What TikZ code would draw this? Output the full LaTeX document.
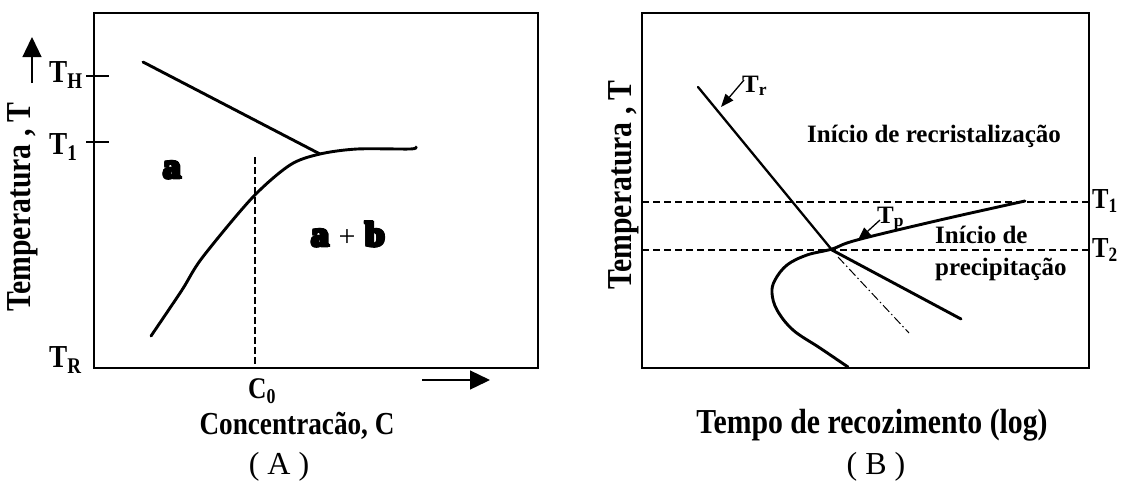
\documentclass[tikz,border=0pt]{standalone}
\usepackage{fontspec}
\setmainfont{Liberation Serif}
\newfontfamily\heavyfont[FakeBold=5]{Liberation Serif}
\newfontfamily\condfont{Liberation Serif}[FakeStretch=0.85]
\usetikzlibrary{arrows.meta}
\newcommand\fs[1]{\fontsize{#1}{#1}\selectfont}
\newcommand\heavytxt[1]{\leavevmode\rlap{#1}\rlap{\raisebox{0.8pt}{#1}}\rlap{\raisebox{-0.6pt}{#1}}\kern1pt\rlap{#1}\rlap{\raisebox{0.8pt}{#1}}\kern1pt#1}
\begin{document}
\begin{tikzpicture}[x=1pt,y=-1pt,
  frame/.style={line width=1.3pt},
  curve/.style={line width=2.9pt,line cap=round,line join=round},
  thin curve/.style={line width=2.3pt,line cap=round},
  dashA/.style={line width=1.1pt,dash pattern=on 7pt off 3pt},
  dashB/.style={line width=1.8pt,dash pattern=on 7pt off 4pt},
  dashdot/.style={line width=1pt,dash pattern=on 9pt off 3pt on 1.5pt off 3pt},
  bigarrow/.style={line width=1.3pt,-{Triangle[length=20pt,width=19pt]}},
  smallarrow/.style={line width=1.3pt,-{Triangle[length=13pt,width=10pt]}},
  tlbl/.style={inner sep=0pt,anchor=base west,font=\condfont\bfseries\fs{32}},
  tlblB/.style={inner sep=0pt,anchor=base west,font=\condfont\bfseries\fs{29}},
  axlbl/.style={inner sep=0pt,font=\condfont\bfseries\fs{35}},
  txt/.style={inner sep=0pt,font=\bfseries\fs{25}},
  phase/.style={inner sep=0pt,anchor=base,font=\heavyfont\bfseries\fs{35}},
  caplbl/.style={inner sep=0pt,anchor=base,font=\fs{32}}]
\useasboundingbox (0,0) rectangle (1127,483);

% ---------------- Panel A ----------------
\draw[frame] (94,13) rectangle (538,368);
\draw[frame] (86,76) -- (109,76);
\draw[frame] (86,142) -- (109,142);
\coordinate (yA0) at (32,83);
\coordinate (yA1) at (32,37);
\draw[bigarrow] (yA0) -- (yA1);
\coordinate (xA0) at (422,380);
\coordinate (xA1) at (490,380);
\draw[bigarrow] (xA0) -- (xA1);

\node[tlbl] (TH) at (49,82) {T\textsubscript{H}};
\node[tlbl] (T1A) at (49,154) {T\textsubscript{1}};
\node[tlbl] (TR) at (49,367) {T\textsubscript{R}};
\node[axlbl,rotate=90] (ylabA) at (23,207) {Temperatura , T};

\draw[curve] (143,62) -- (320,154);
\draw[curve] plot[smooth,tension=0.5] coordinates {(151,336) (182,290) (202,258) (252,198) (290,165) (320,154) (357,149) (410,149) (416,147)};
\draw[dashA] (255,157) -- (255,368);

\node[phase] (alpha) at (172,178) {\heavytxt{a}};
\node[phase] (alphabeta) at (348,246) {\heavytxt{a} {\normalfont\fs{30}+} \heavytxt{b}};

\node[inner sep=0pt,anchor=base west,font=\condfont\bfseries\fs{30}] (C0) at (248,398) {C\textsubscript{0}};
\node[inner sep=0pt,anchor=base,font=\condfont\bfseries\fs{32}] (xlabA) at (297,434) {Concentracão, C};
\node[caplbl] (capA) at (279,474) {( A )};

% ---------------- Panel B ----------------
\draw[frame] (642,13) rectangle (1089,368);
\draw[dashB] (642,202) -- (1092,202);
\draw[dashB] (642,250) -- (1092,250);
\node[tlblB] (T1B) at (1092,208) {T\textsubscript{1}};
\node[tlblB] (T2B) at (1092,257) {T\textsubscript{2}};
\node[axlbl,rotate=90] (ylabB) at (624,185) {Temperatura , T};

\node[txt,anchor=base] (rec) at (934,142) {Início de recristalização};
\node[txt,anchor=base west] (ini) at (935,243) {Início de};
\node[txt,anchor=base west] (pre) at (935,275) {precipitação};

\node[anchor=base west,inner sep=0pt,font=\bfseries\fs{25}] (Tr) at (742,92) {T\textsubscript{r}};
\node[anchor=base west,inner sep=0pt,font=\bfseries\fs{25}] (Tp) at (877,223) {T\textsubscript{p}};

\draw[thin curve] (698,87) -- (832,250);
\draw[curve] (832,250) -- (961,319);
\draw[dashdot] (838,257) -- (909,333);
\draw[curve] plot[smooth,tension=0.6] coordinates {(1025,201) (940,220) (857,240) (832,249) (807,255) (787,265) (775,280) (772,293) (777,310) (793,330) (820,348) (848,367)};

\coordinate (trT) at (744,80);
\coordinate (trH) at (721,107);
\draw[smallarrow] (trT) -- (trH);
\coordinate (tpT) at (880,220);
\coordinate (tpH) at (858,240);
\draw[smallarrow] (tpT) -- (tpH);

\node[axlbl,anchor=base] (xlabB) at (872,433) {Tempo de recozimento (log)};
\node[caplbl] (capB) at (876,474) {( B )};
\end{tikzpicture}
\end{document}
